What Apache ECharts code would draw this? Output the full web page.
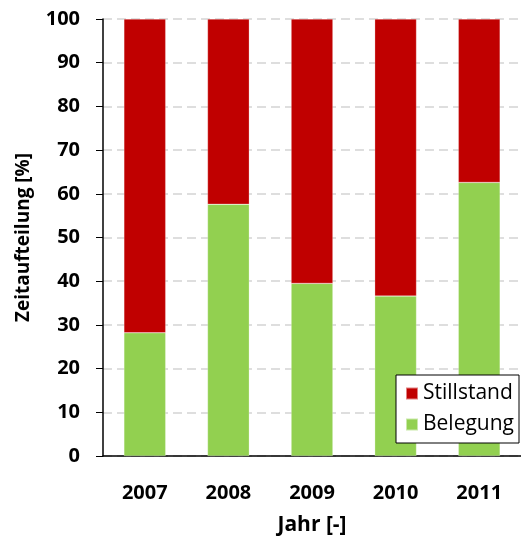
<!DOCTYPE html>
<html>
<head>
<meta charset="utf-8">
<script src="https://cdn.jsdelivr.net/npm/echarts@6/dist/echarts.min.js"></script>
<style>
  html, body { margin: 0; padding: 0; background: #fff; }
  #chart { width: 521px; height: 543px; }
</style>
</head>
<body>
<div id="chart"></div>
<script>
// Annual time split (occupied vs. idle), percent
const years = ['2007', '2008', '2009', '2010', '2011'];
const belegung = [28.2, 57.6, 39.5, 36.6, 62.6];
const stillstand = belegung.map(v => +(100 - v).toFixed(1));
const yTicks = [0, 10, 20, 30, 40, 50, 60, 70, 80, 90, 100];

const FONT = '"Open Sans", Lato, sans-serif';

const chart = echarts.init(document.getElementById('chart'), null, { renderer: 'canvas' });
chart.setOption({
  animation: false,
  textStyle: { fontFamily: FONT },
  grid: { left: 103, top: 19, right: -5, bottom: 87, containLabel: false },
  legend: {
    orient: 'vertical',
    left: 396, top: 375,
    padding: [8, 5, 8, 9],
    itemGap: 10,
    itemWidth: 12, itemHeight: 12,
    icon: 'rect',
    borderColor: '#000', borderWidth: 1,
    backgroundColor: '#fff',
    textStyle: { fontFamily: FONT, fontSize: 21, color: '#000', padding: [0, 0, 0, 0] },
    data: ['Stillstand', 'Belegung']
  },
  xAxis: {
    type: 'category',
    data: years,
    name: 'Jahr [-]',
    nameLocation: 'middle',
    nameGap: 59,
    nameTextStyle: { fontFamily: FONT, fontSize: 21, fontWeight: 'bold', color: '#000' },
    axisLine: { lineStyle: { color: '#000', width: 1.5 } },
    axisTick: { show: false },
    axisLabel: { margin: 27, fontFamily: FONT, fontSize: 20, fontWeight: 'bold', color: '#000' }
  },
  yAxis: {
    type: 'value',
    min: yTicks[0], max: yTicks[yTicks.length - 1], interval: 10,
    name: 'Zeitaufteilung [%]',
    nameLocation: 'middle',
    nameGap: 70,
    nameRotate: 90,
    nameTextStyle: { fontFamily: FONT, fontSize: 19, fontWeight: 'bold', color: '#000' },
    axisLine: { show: true, lineStyle: { color: '#000', width: 1.5 } },
    axisTick: { show: true, length: 7, lineStyle: { color: '#000' } },
    axisLabel: { margin: 23, fontFamily: FONT, fontSize: 20, fontWeight: 'bold', color: '#000' },
    splitLine: { show: true, lineStyle: { color: '#d4d4d4', width: 1.5, type: [9, 5] } }
  },
  series: [
    {
      name: 'Belegung', type: 'bar', stack: 'total', data: belegung,
      barWidth: '50%',
      itemStyle: { color: '#92D050', borderColor: 'rgba(255,255,255,0.5)', borderWidth: 0.5 }
    },
    {
      name: 'Stillstand', type: 'bar', stack: 'total', data: stillstand,
      barWidth: '50%',
      itemStyle: { color: '#C00000', borderColor: 'rgba(255,255,255,0.5)', borderWidth: 0.5 }
    }
  ]
});
</script>
</body>
</html>
